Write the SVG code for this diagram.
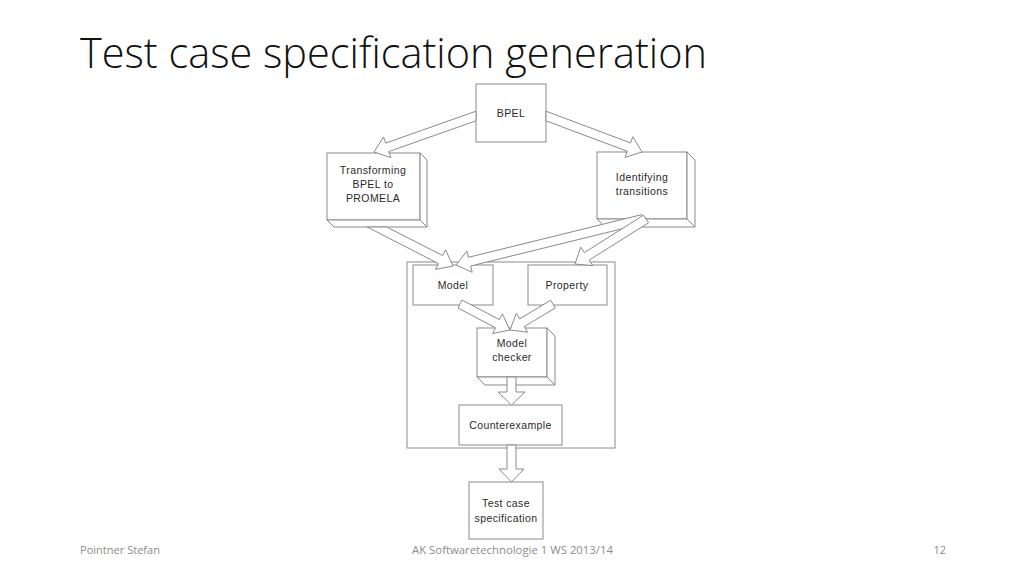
<svg xmlns="http://www.w3.org/2000/svg" width="1024" height="576" viewBox="0 0 1024 576">
<style>
.bx{fill:#fff;stroke:#8a8a8a;stroke-width:1}
.cn{fill:#fff;stroke:#8a8a8a;stroke-width:1}
.t{font-family:"Liberation Sans",Arial,sans-serif;font-size:10.5px;fill:#2a2a2a;text-anchor:middle;letter-spacing:0.4px}
.ft{font-family:"Open Sans","Liberation Sans",sans-serif;font-size:11px;fill:#8c8c8c}
</style>
<rect width="1024" height="576" fill="#fff"/>
<text x="80" y="68" font-family="'Open Sans','Liberation Sans',sans-serif" font-weight="300" font-size="42" fill="#111" textLength="627" lengthAdjust="spacingAndGlyphs">Test case specification generation</text>
<g id="container"><rect class="bx" x="407" y="262" width="208" height="186"/></g>
<g id="bpel"><rect class="bx" x="476" y="84" width="70" height="58"/><text class="t" x="511" y="117">BPEL</text></g>
<g id="transforming">
<rect class="bx" x="327" y="153" width="93" height="67"/>
<polygon class="bx" points="420,153 427,160 427,227 420,220"/>
<polygon class="bx" points="327,220 334,227 427,227 420,220"/>
<text class="t" x="373" y="174">Transforming</text><text class="t" x="373" y="188">BPEL to</text><text class="t" x="373" y="202">PROMELA</text>
</g>
<g id="identifying">
<rect class="bx" x="597" y="152" width="90" height="67"/>
<polygon class="bx" points="687,152 695,160 695,227 687,219"/>
<polygon class="bx" points="597,219 605,227 695,227 687,219"/>
<text class="t" x="642" y="181">Identifying</text><text class="t" x="642" y="195">transitions</text>
</g>
<g id="model"><rect class="bx" x="413" y="265" width="80" height="40"/><text class="t" x="453" y="289">Model</text></g>
<g id="property"><rect class="bx" x="528" y="265" width="79" height="40"/><text class="t" x="567" y="289">Property</text></g>
<g id="modelchecker">
<rect class="bx" x="477" y="328" width="70" height="49"/>
<polygon class="bx" points="547,328 555,336 555,385 547,377"/>
<polygon class="bx" points="477,377 485,385 555,385 547,377"/>
<text class="t" x="512" y="347">Model</text><text class="t" x="512" y="361">checker</text>
</g>
<g id="counterexample"><rect class="bx" x="459" y="405" width="103" height="40"/><text class="t" x="510.5" y="429">Counterexample</text></g>
<g id="testcase"><rect class="bx" x="469" y="482" width="74" height="57"/><text class="t" x="506" y="507">Test case</text><text class="t" x="506" y="522">specification</text></g>
<g id="connectors">
<polygon class="cn" points="476,111.2 385.7,143.1 383.5,137 374,152 390.9,157.7 388.7,151.6 476,120.8"/>
<polygon class="cn" points="546,111.2 630.5,142.9 632.8,136.8 642,152 625,157.4 627.3,151.3 546,120.8"/>
<polygon class="cn" points="386.8,227 442.6,255.6 445.6,249.8 453,266 435.5,269.4 438.5,263.6 367.2,227"/>
<polygon class="cn" points="641.9,214.6 468.5,257.3 467,251 456,265 472.2,272.3 470.7,266 644.1,223.4"/>
<polygon class="cn" points="643.5,215.2 584.3,252.6 580.7,247.1 575,264 592.7,265.6 589.2,260.1 648.5,222.8"/>
<polygon class="cn" points="462,300 499.5,319.7 502.4,313.9 510,330 492.6,333.6 495.5,327.8 458,308"/>
<polygon class="cn" points="550.7,300.2 519.7,318.9 516.3,313.4 510,330 527.7,332.2 524.3,326.6 555.3,307.9"/>
<polygon class="cn" points="507,377 507,392 498,392 511.5,405 525,392 516,392 516,377"/>
<polygon class="cn" points="507,445 507,469 499,469 511.5,482 524,469 516,469 516,445"/>
</g>
<text class="ft" x="80" y="554" textLength="80" lengthAdjust="spacingAndGlyphs">Pointner Stefan</text>
<text class="ft" x="412" y="554" textLength="201" lengthAdjust="spacingAndGlyphs">AK Softwaretechnologie 1 WS 2013/14</text>
<text class="ft" x="946" y="554" text-anchor="end">12</text>
</svg>
